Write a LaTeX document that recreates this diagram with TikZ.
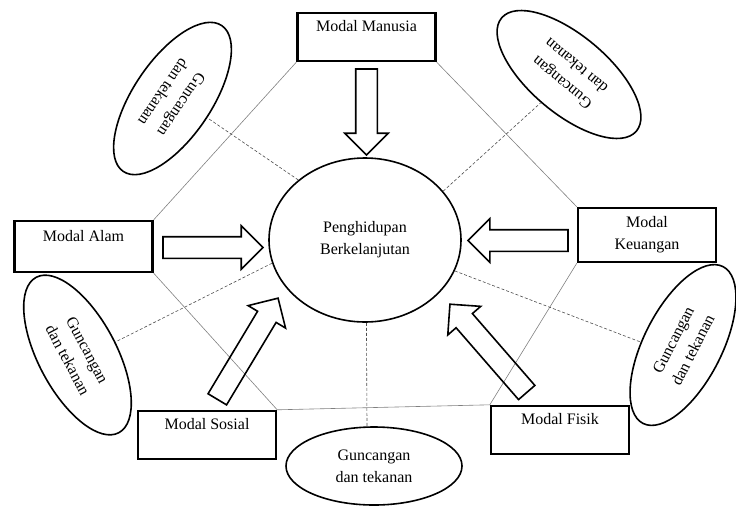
\documentclass[tikz,border=0pt]{standalone}
\usepackage{fontspec}
\setmainfont{Liberation Serif}
\usetikzlibrary{shapes.geometric,shapes.arrows}
\tikzset{
  modal/.style={draw,line width=2.4pt,minimum width=138pt,minimum height=48pt,inner sep=0pt,align=center},
  guncang/.style={ellipse,draw,line width=1.6pt,minimum width=176pt,minimum height=78pt,inner sep=0pt,align=center},
  panah/.style={single arrow,draw,line width=1.6pt,inner xsep=0pt,inner ysep=10pt,outer sep=0pt,single arrow head extend=11pt,anchor=tail},
  garis/.style={gray,line width=0.6pt},
  putus/.style={black!70,line width=0.6pt,dash pattern=on 3pt off 2pt}
}
\begin{document}
\begin{tikzpicture}[x=1pt,y=1pt,font=\fontsize{16}{22}\selectfont]
\useasboundingbox (0,0) rectangle (736,-507);
%Центральный эллипс
\node[ellipse,draw,line width=1.6pt,minimum width=192pt,minimum height=164pt,inner sep=0pt,align=center] (hidup) at (365,-240) {Penghidupan\\Berkelanjutan};
%Блоки капиталов
\node[modal] (manusia) at (366.5,-37) {Modal Manusia\\~};
\node[modal,minimum height=51pt] (alam) at (83.5,-246.5) {Modal Alam\\~};
\node[modal,minimum height=54pt] (keuangan) at (647,-235) {Modal\\Keuangan};
\node[modal] (sosial) at (207,-435) {Modal Sosial\\~};
\node[modal] (fisik) at (560,-430) {Modal Fisik\\~};
%Эллипсы потрясений
\node[guncang,rotate=236] (gkiriatas) at (172.5,-98.5) {Guncangan\\dan tekanan};
\node[guncang,rotate=140] (gkananatas) at (569,-74.5) {Guncangan\\dan tekanan};
\node[guncang,rotate=63] (gkanan) at (683,-345) {Guncangan\\dan tekanan};
\node[guncang,rotate=-62] (gkiri) at (77.5,-355) {Guncangan\\dan tekanan};
\node[guncang] (gbawah) at (374,-466) {Guncangan\\dan tekanan};
%Контур (серые линии)
\draw[garis] (manusia.south west) -- (alam.north east);
\draw[garis] (manusia.south east) -- (keuangan.north west);
\draw[garis] (alam.south east) -- (sosial.north east);
\draw[garis] (sosial.north east) -- (fisik.north west);
\draw[garis] (fisik.north west) -- (keuangan.south west);
%Пунктир к эллипсам
\draw[putus] (hidup.138) -- (gkiriatas.95);
\draw[putus] (hidup.32) -- (gkananatas.85);
\draw[putus] (hidup.194) -- (gkiri.81);
\draw[putus] (hidup.341) -- (gkanan.113);
\draw[putus] (hidup.271) -- (gbawah.100);
%Стрелки
\node[panah,minimum height=86pt,rotate=-90] (pmanusia) at (366.5,-69) {};
\node[panah,minimum height=100pt] (palam) at (163,-247.5) {};
\node[panah,minimum height=100pt,rotate=180] (pkeuangan) at (568,-240.5) {};
\node[panah,minimum height=118pt,rotate=59] (psosial) at (217.3,-399.3) {};
\node[panah,minimum height=117pt,rotate=131] (pfisik) at (526.7,-392.5) {};
\end{tikzpicture}
\end{document}
